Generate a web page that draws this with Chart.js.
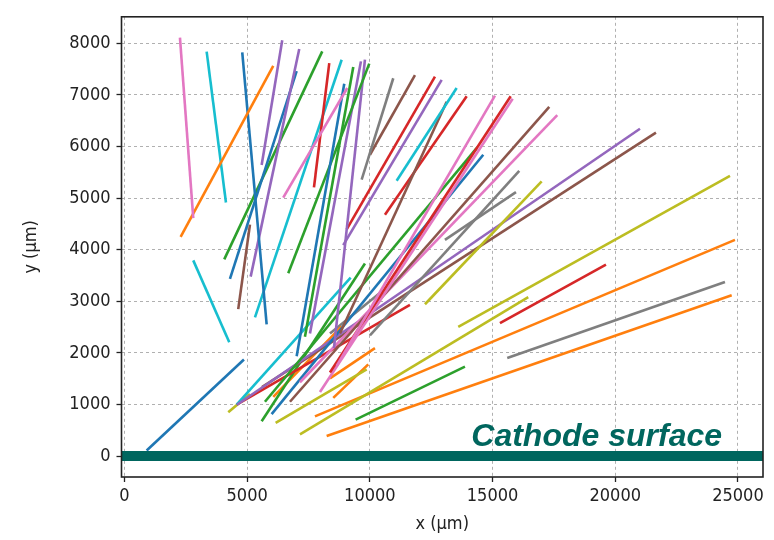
<!DOCTYPE html>
<html>
<head>
<meta charset="utf-8">
<script src="https://cdn.jsdelivr.net/npm/chart.js@4.4.0/dist/chart.umd.min.js"></script>
<style>
  html, body { margin: 0; padding: 0; background: #fff; }
  #wrap { width: 774px; height: 540px; }
</style>
</head>
<body>
<div id="wrap"><canvas id="tracks"></canvas></div>
<script>
// track end points in µm
let startX = [905, 2262, 2290, 3350, 4800, 5591, 7123, 7017, 8060, 6471, 8346, 8851, 8957, 9324, 9976, 9637, 9800,
  10954, 11838, 12653, 12926, 13537, 13130, 13945, 15098, 15738, 15819, 17310, 17637, 14352, 14621, 16088, 15954,
  17001, 4584, 5603, 4572, 4572, 4230, 5591, 6161, 7152, 7763, 8240, 9421, 8374, 8509, 6064, 15599, 15302, 13602,
  5114, 2804, 8374];
let startY = [108, 8108, 4247, 7838, 7825, 5640, 7889, 7460, 7844, 5009, 7617, 7681, 7214, 7541, 7605, 7649, 7681,
  7322, 7384, 7352, 7290, 7133, 6868, 6974, 6987, 6974, 6925, 6766, 6609, 5967, 5840, 5526, 5116,
  5324, 996, 1336, 996, 996, 851, 675, 643, 423, 769, 391, 707, 1506, 1128, 1147, 1903, 2578, 2502,
  4487, 3793, 2376];
let endX = [4870, 2804, 6064, 4136, 5795, 6430, 5143, 4299, 4067, 9079, 7722, 5318, 7017, 7355, 6675, 7559, 8537,
  9666, 10004, 9055, 8916, 11092, 8782, 10615, 8647, 8374, 7967, 6744, 7152, 5725, 5998, 10004, 13060,
  12246, 21007, 21658, 9218, 11634, 5114, 9800, 9870, 16455, 24878, 24744, 13875, 10208, 9935, 8851, 24470, 19621, 24674,
  4637, 4271, 10534];
let endY = [1871, 4612, 7560, 4914, 2552, 8059, 3478, 3434, 3812, 7133, 5207, 2689, 1935, 2313, 3542, 2376, 2092,
  5356, 5840, 4392, 4090, 5337, 2376, 4676, 1746, 1620, 1242, 1053, 1431, 1053, 813, 2338, 4190,
  2943, 6343, 6269, 3459, 2930, 1204, 3731, 1682, 3081, 4190, 3119, 1733, 2092, 1777, 2514, 3372, 3712, 5432,
  2848, 2206, 3207];
let trackColor = ['blue', 'pink', 'orange', 'cyan', 'blue', 'purple', 'purple', 'blue', 'green', 'pink', 'red', 'cyan',
  'blue', 'green', 'green', 'purple', 'purple', 'gray', 'brown', 'red', 'purple', 'cyan', 'brown', 'red', 'pink', 'red',
  'pink', 'brown', 'pink', 'green', 'blue', 'gray', 'gray', 'olive', 'purple', 'brown', 'cyan', 'red', 'olive', 'green',
  'olive', 'olive', 'orange', 'orange', 'green', 'orange', 'orange', 'orange', 'gray', 'red', 'olive', 'brown', 'cyan', 'gray'];

let xTicks = [0, 5000, 10000, 15000, 20000, 25000];
let yTicks = [0, 1000, 2000, 3000, 4000, 5000, 6000, 7000, 8000];
let xMin = -120, xMax = 26020;
let yMin = -405, yMax = 8513;

const palette = {
  blue: '#1f77b4', orange: '#ff7f0e', green: '#2ca02c', red: '#d62728', purple: '#9467bd',
  brown: '#8c564b', pink: '#e377c2', gray: '#7f7f7f', olive: '#bcbd22', cyan: '#17becf'
};
const teal = '#00665e';
const tickFont = { family: '"DejaVu Sans Condensed", "DejaVu Sans"', size: 18 };

let datasets = [{
  // cathode plane
  data: [{ x: xMin, y: 0 }, { x: xMax, y: 0 }],
  borderColor: teal,
  borderWidth: 10,
  borderCapStyle: 'butt',
  order: -1
}];
for (let i = 0; i < startX.length; i++) {
  datasets.push({
    data: [{ x: startX[i], y: startY[i] }, { x: endX[i], y: endY[i] }],
    borderColor: palette[trackColor[i]],
    borderWidth: 2.6
  });
}

// black box round the plot and the cathode caption
const frame = {
  id: 'frame',
  afterDatasetsDraw(chart) {
    const { ctx, chartArea: a, scales } = chart;
    ctx.save();
    ctx.font = 'italic bold 32px "Liberation Sans", Arial, sans-serif';
    ctx.fillStyle = teal;
    ctx.textAlign = 'right';
    ctx.textBaseline = 'alphabetic';
    ctx.fillText('Cathode surface', scales.x.getPixelForValue(24350), scales.y.getPixelForValue(190));
    ctx.strokeStyle = '#222';
    ctx.lineWidth = 1.6;
    ctx.strokeRect(a.left, a.top, a.right - a.left, a.bottom - a.top);
    ctx.restore();
  }
};

new Chart(document.getElementById('tracks'), {
  type: 'line',
  data: { datasets: datasets },
  plugins: [frame],
  options: {
    responsive: true,
    maintainAspectRatio: false,
    animation: false,
    events: [],
    layout: { padding: { top: 5, right: 11, left: 0, bottom: 0 } },
    elements: { point: { radius: 0 }, line: { tension: 0 } },
    plugins: { legend: { display: false }, tooltip: { enabled: false } },
    scales: {
      x: {
        type: 'linear',
        min: xMin,
        max: xMax,
        afterBuildTicks: s => { s.ticks = xTicks.map(v => ({ value: v })); },
        afterFit: s => { s.height = 63; },
        grid: { color: '#b0b0b0', lineWidth: 1, tickLength: 5, tickColor: '#222', tickWidth: 1.3, tickBorderDash: [] },
        border: { display: false, dash: [3, 3] },
        ticks: { color: '#222', font: tickFont, padding: 4, maxRotation: 0, callback: v => String(v) },
        title: { display: true, text: 'x (µm)', color: '#222', font: tickFont, padding: { top: 0, bottom: 5 } }
      },
      y: {
        type: 'linear',
        min: yMin,
        max: yMax,
        afterBuildTicks: s => { s.ticks = yTicks.map(v => ({ value: v })); },
        afterFit: s => { s.width = 121.5; },
        grid: { color: '#b0b0b0', lineWidth: 1, tickLength: 5, tickColor: '#222', tickWidth: 1.3, tickBorderDash: [] },
        border: { display: false, dash: [3, 3] },
        ticks: { color: '#222', font: tickFont, padding: 6, callback: v => String(v) },
        title: { display: true, text: 'y (µm)', color: '#222', font: tickFont, padding: { top: 21, bottom: 0 } }
      }
    }
  }
});
</script>
</body>
</html>
